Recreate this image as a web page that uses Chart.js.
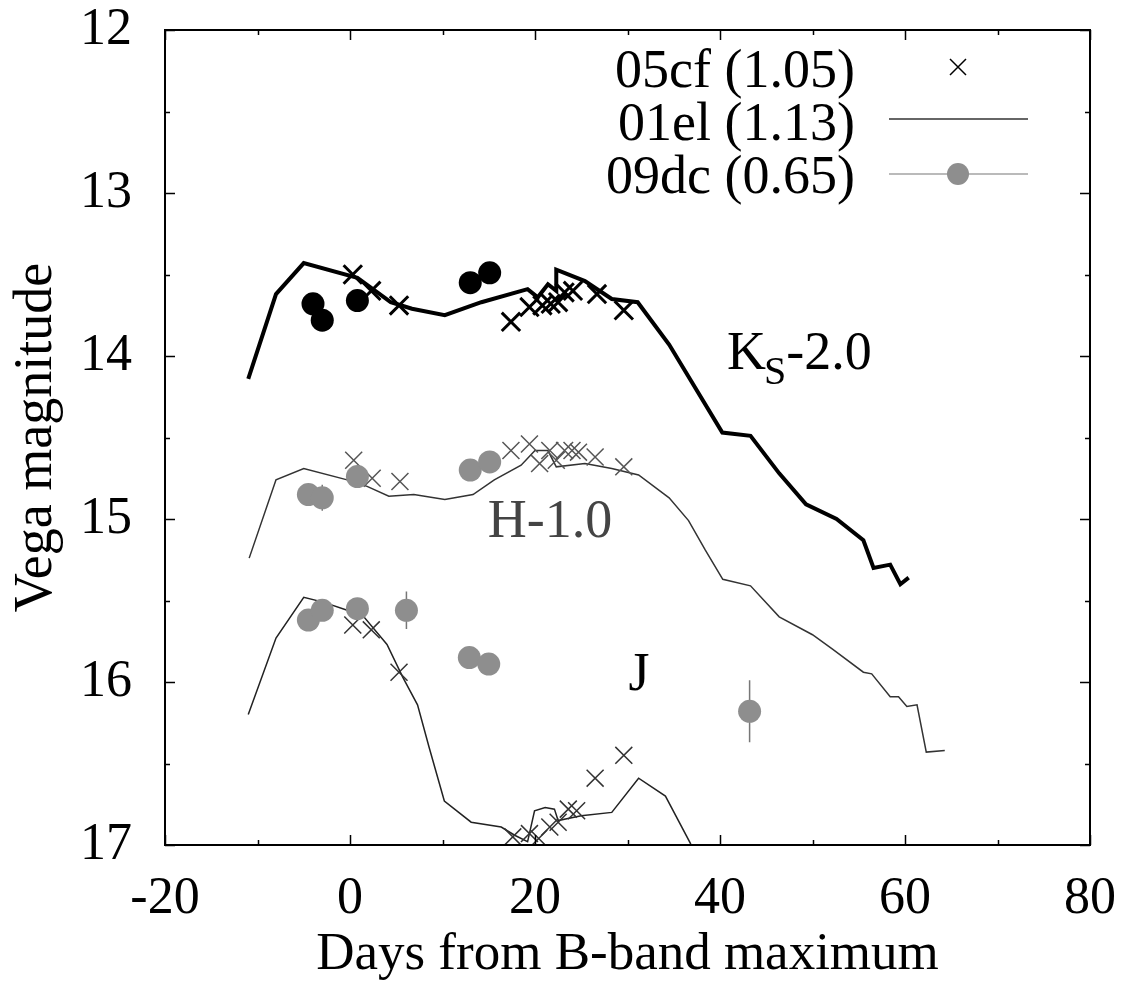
<!DOCTYPE html>
<html><head><meta charset="utf-8">
<script src="https://cdn.jsdelivr.net/npm/chart.js@4.4.1/dist/chart.umd.min.js"></script>
<style>html,body{margin:0;padding:0;background:#fff}#wrap{width:1131px;height:982px}</style>
</head><body><div id="wrap"><canvas id="c" width="1131" height="982"></canvas></div>
<script>
// ---- axis ticks ----
const xTickValues = [-20, 0, 20, 40, 60, 80];
const yTickValues = [12, 13, 14, 15, 16, 17];
const legendLabels = ['05cf (1.05)', '01el (1.13)', '09dc (0.65)'];

// ---- Ks band (offset -2.0) ----
const kLineDays = [-11.0, -8.0, -5.0, 0.8, 4.4, 6.7, 10.25, 14.2, 19.2, 20.3, 21.4, 22.3, 22.3, 25.4, 28.3, 31.1, 34.5, 40.25, 43.3, 46.4, 49.3, 52.6, 55.5, 56.6, 58.4, 59.5, 60.4];
const kLineMag  = [14.14, 13.62, 13.43, 13.52, 13.67, 13.71, 13.75, 13.67, 13.59, 13.64, 13.56, 13.60, 13.47, 13.54, 13.65, 13.67, 13.93, 14.47, 14.49, 14.72, 14.91, 15.00, 15.13, 15.30, 15.28, 15.40, 15.36];
const kCfDays = [0.3, 2.3, 5.3, 17.4, 19.4, 20.8, 21.7, 22.5, 23.2, 24.1, 26.7, 29.6];
const kCfMag  = [13.50, 13.60, 13.69, 13.79, 13.70, 13.69, 13.68, 13.67, 13.61, 13.60, 13.62, 13.72];
const kDcDays = [-4.0, -3.0, 0.8, 13.0, 15.1];
const kDcMag  = [13.68, 13.78, 13.66, 13.55, 13.49];
const kDcErr  = [0.05, 0.06, 0.05, 0.05, 0.03];

// ---- H band (offset -1.0) ----
const hLineDays = [-10.9, -8.0, -5.0, -0.3, 1.85, 4.2, 6.9, 10.25, 13.3, 15.6, 18.5, 20.0, 21.4, 22.3, 25.4, 28.3, 31.2, 34.5, 36.6, 38.4, 40.3, 43.3, 46.4, 50.0, 52.2, 55.5, 56.4, 58.4, 59.3, 60.2, 61.3, 62.3, 64.3];
const hLineMag  = [15.24, 14.76, 14.69, 14.76, 14.80, 14.86, 14.85, 14.88, 14.85, 14.76, 14.67, 14.58, 14.58, 14.68, 14.66, 14.69, 14.73, 14.87, 15.01, 15.19, 15.37, 15.41, 15.60, 15.71, 15.80, 15.94, 15.95, 16.09, 16.09, 16.15, 16.14, 16.43, 16.42];
const hCfDays = [0.4, 2.4, 5.4, 17.4, 19.4, 20.5, 21.6, 22.3, 23.2, 24.0, 24.7, 26.5, 29.6];
const hCfMag  = [14.64, 14.75, 14.77, 14.58, 14.54, 14.66, 14.58, 14.64, 14.58, 14.58, 14.59, 14.62, 14.68];
const hDcDays = [-4.5, -3.0, 0.8, 13.0, 15.1];
const hDcMag  = [14.85, 14.87, 14.74, 14.70, 14.65];
const hDcErr  = [0.03, 0.08, 0.04, 0.03, 0.03];

// ---- J band ----
const jLineDays = [-11.0, -8.0, -5.0, -2.9, -0.3, 1.5, 4.0, 5.7, 7.3, 8.55, 10.2, 13.1, 16.35, 17.8, 19.2, 19.95, 21.1, 22.1, 22.5, 25.0, 28.3, 31.2, 34.1, 36.8, 38.0];
const jLineMag  = [16.20, 15.73, 15.48, 15.51, 15.56, 15.60, 15.77, 15.97, 16.14, 16.40, 16.73, 16.86, 16.89, 16.94, 16.98, 16.79, 16.77, 16.78, 16.85, 16.82, 16.80, 16.59, 16.70, 16.99, 17.20];
const jCfDays = [0.3, 2.3, 5.3, 17.6, 19.4, 20.4, 21.6, 22.5, 23.6, 24.5, 26.5, 29.6];
const jCfMag  = [15.65, 15.68, 15.94, 16.95, 16.93, 16.96, 16.89, 16.86, 16.78, 16.79, 16.59, 16.45];
const jDcDays = [-4.5, -3.0, 0.8, 6.1, 12.9, 15.0, 43.2];
const jDcMag  = [15.62, 15.56, 15.55, 15.56, 15.85, 15.89, 16.18];
const jDcErr  = [0.03, 0.05, 0.03, 0.115, 0.03, 0.03, 0.19];

// ---- helpers building library data from the arrays ----
const pts = (d, m) => d.map((x, i) => ({x: x, y: m[i]}));
const errPts = (d, m, e) => {
  const out = [];
  d.forEach((x, i) => { out.push({x: x, y: m[i] - e[i]}, {x: x, y: m[i] + e[i]}, {x: x, y: null}); });
  return out;
};
const FONT = 'Liberation Serif, Times New Roman, serif';
const GREY = '#8e8e8e';

function lineDs(d, m, color, w) {
  return {data: pts(d, m), showLine: true, borderColor: color, borderWidth: w, pointRadius: 0, order: 4, tension: 0};
}
function crossDs(d, m, color, w, r) {
  return {data: pts(d, m), showLine: false, pointStyle: 'crossRot', pointRadius: r, borderColor: color, pointBorderWidth: w, borderWidth: w, order: 2};
}
function errDs(d, m, e, color) {
  return {data: errPts(d, m, e), showLine: true, spanGaps: false, borderColor: color, borderWidth: 1.5, pointRadius: 0, order: 3};
}
function dotDs(d, m, color, r) {
  return {data: pts(d, m), showLine: false, pointStyle: 'circle', pointRadius: r, backgroundColor: color, borderColor: color, borderWidth: 0, pointBorderWidth: 0, order: 1};
}

const datasets = [
  lineDs(kLineDays, kLineMag, '#000', 4),
  lineDs(hLineDays, hLineMag, '#333', 1.5),
  lineDs(jLineDays, jLineMag, '#222', 1.5),
  crossDs(kCfDays, kCfMag, '#000', 3, 13),
  crossDs(hCfDays, hCfMag, '#555', 1.5, 12),
  crossDs(jCfDays, jCfMag, '#333', 1.5, 12),
  errDs(kDcDays, kDcMag, kDcErr, '#000'),
  errDs(hDcDays, hDcMag, hDcErr, '#777'),
  errDs(jDcDays, jDcMag, jDcErr, '#777'),
  dotDs(kDcDays, kDcMag, '#000', 11.5),
  dotDs(hDcDays, hDcMag, GREY, 11.5),
  dotDs(jDcDays, jDcMag, GREY, 11.5)
];

const framePlugin = {
  id: 'frame',
  afterDatasetsDraw(chart) {
    const ctx = chart.ctx, a = chart.chartArea, xs = chart.scales.x, ys = chart.scales.y;
    ctx.save();
    ctx.strokeStyle = '#000';
    ctx.lineWidth = 2;
    ctx.strokeRect(a.left, a.top, a.right - a.left, a.bottom - a.top);
    ctx.lineWidth = 1.5;
    ctx.beginPath();
    for (let v = xs.min; v <= xs.max + 1e-9; v += 10) {
      const px = Math.round(xs.getPixelForValue(v)) + 0.5;
      const len = (Math.round(v) % 20 === 0) ? 10 : 5;
      ctx.moveTo(px, a.bottom); ctx.lineTo(px, a.bottom - len);
      ctx.moveTo(px, a.top); ctx.lineTo(px, a.top + len);
    }
    for (let v = ys.min; v <= ys.max + 1e-9; v += 0.5) {
      const py = Math.round(ys.getPixelForValue(v)) + 0.5;
      const len = (Math.abs(v - Math.round(v)) < 1e-6) ? 10 : 5;
      ctx.moveTo(a.left, py); ctx.lineTo(a.left + len, py);
      ctx.moveTo(a.right, py); ctx.lineTo(a.right - len, py);
    }
    ctx.stroke();
    ctx.restore();
  },
  afterDraw(chart) {
    const ctx = chart.ctx, a = chart.chartArea, xs = chart.scales.x, ys = chart.scales.y;
    ctx.save();
    ctx.textBaseline = 'alphabetic';
    // band labels
    ctx.font = '54px ' + FONT;
    ctx.fillStyle = '#000';
    let x0 = xs.getPixelForValue(40.76), y0 = ys.getPixelForValue(14.08);
    ctx.textAlign = 'left';
    ctx.fillText('K', x0, y0);
    let w = ctx.measureText('K').width;
    ctx.font = '40px ' + FONT;
    ctx.fillText('S', x0 + w - 2, y0 + 15);
    let w2 = ctx.measureText('S').width;
    ctx.font = '54px ' + FONT;
    ctx.fillText('-2.0', x0 + w - 2 + w2, y0);
    ctx.fillStyle = '#444';
    ctx.fillText('H-1.0', xs.getPixelForValue(14.9), ys.getPixelForValue(15.113));
    ctx.fillStyle = '#000';
    ctx.fillText('J', xs.getPixelForValue(30.1), ys.getPixelForValue(16.05));
    // legend
    ctx.textAlign = 'right';
    const tx = a.right - 235, sx = a.right - 132;
    const rowBase = [a.top + 57, a.top + 110, a.top + 163];
    legendLabels.forEach((t, i) => ctx.fillText(t, tx, rowBase[i]));
    // 05cf symbol
    ctx.strokeStyle = '#000'; ctx.lineWidth = 1.5;
    let cy = a.top + 37;
    ctx.beginPath();
    ctx.moveTo(sx - 8, cy - 8); ctx.lineTo(sx + 8, cy + 8);
    ctx.moveTo(sx - 8, cy + 8); ctx.lineTo(sx + 8, cy - 8);
    ctx.stroke();
    // 01el line
    cy = a.top + 89;
    ctx.strokeStyle = '#333'; ctx.lineWidth = 1.5;
    ctx.beginPath(); ctx.moveTo(a.right - 201, cy); ctx.lineTo(a.right - 62, cy); ctx.stroke();
    // 09dc line + dot
    cy = a.top + 144;
    ctx.strokeStyle = '#777'; ctx.lineWidth = 1.2;
    ctx.beginPath(); ctx.moveTo(a.right - 201, cy); ctx.lineTo(a.right - 62, cy); ctx.stroke();
    ctx.fillStyle = GREY;
    ctx.beginPath(); ctx.arc(sx, cy, 11, 0, Math.PI * 2); ctx.fill();
    ctx.restore();
  }
};

new Chart(document.getElementById('c'), {
  type: 'scatter',
  data: {datasets: datasets},
  options: {
    responsive: false,
    animation: false,
    devicePixelRatio: 1,
    layout: {autoPadding: false, padding: {top: 30, right: 41, left: 0, bottom: 0}},
    plugins: {legend: {display: false}, tooltip: {enabled: false}},
    scales: {
      x: {
        type: 'linear', min: -20, max: 80,
        afterBuildTicks: s => { s.ticks = xTickValues.map(v => ({value: v})); },
        afterFit: s => { s.height = 137; s.paddingLeft = 0; s.paddingRight = 0; },
        grid: {display: false, drawTicks: false},
        border: {display: false},
        ticks: {color: '#000', font: {family: FONT, size: 52}, padding: 23, maxRotation: 0, autoSkip: false},
        title: {display: true, text: 'Days from B-band maximum', color: '#000', font: {family: FONT, size: 53, lineHeight: 1.0}, padding: {top: 0, bottom: 0}}
      },
      y: {
        type: 'linear', reverse: true, min: 12, max: 17,
        afterBuildTicks: s => { s.ticks = yTickValues.map(v => ({value: v})); },
        afterFit: s => { s.width = 165; s.paddingTop = 0; s.paddingBottom = 0; },
        grid: {display: false, drawTicks: false},
        border: {display: false},
        ticks: {color: '#000', font: {family: FONT, size: 52}, padding: 33, autoSkip: false},
        title: {display: true, text: 'Vega magnitude', color: '#000', font: {family: FONT, size: 54, lineHeight: 1.0}, padding: {top: 10, bottom: 0}}
      }
    }
  },
  plugins: [framePlugin]
});
</script>
</body></html>
